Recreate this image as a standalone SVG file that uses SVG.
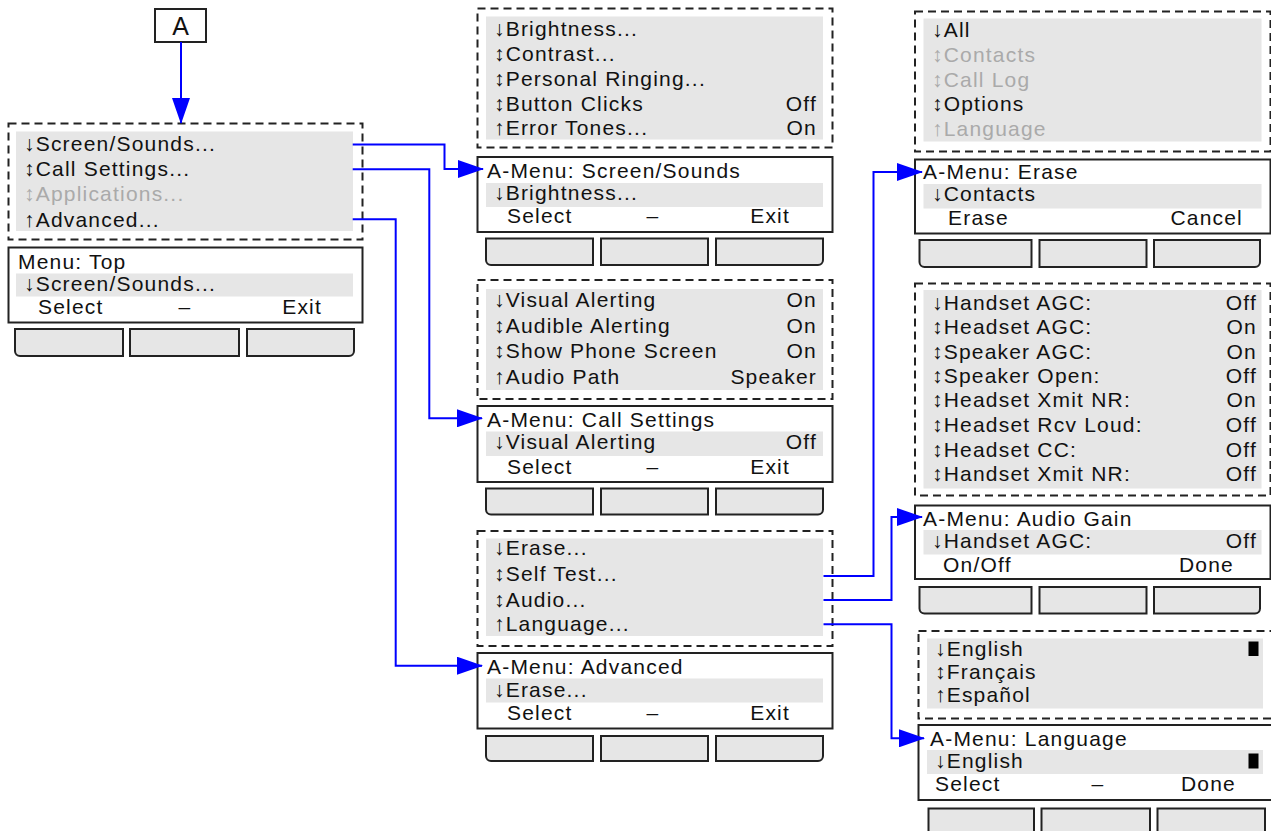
<svg xmlns="http://www.w3.org/2000/svg" width="1271" height="831" viewBox="0 0 1271 831">
<style>
  .dash{fill:none;stroke:#222;stroke-width:2;stroke-dasharray:8 5}
  .box{fill:#fff;stroke:#222;stroke-width:2}
  .hl{fill:#e6e6e6}
  .btn{fill:#e6e6e6;stroke:#222;stroke-width:2}
  text{font-family:"Liberation Sans",Arial,sans-serif;font-size:21px;letter-spacing:1.2px;fill:#111}
  .dim{fill:#aaa}
  .r{text-anchor:end}
  .m{text-anchor:middle}
  .blk{fill:#000}
  .conn{fill:none;stroke:#0000ff;stroke-width:2;marker-end:url(#ah)}
</style>
<defs>
  <marker id="ah" markerUnits="userSpaceOnUse" markerWidth="26" markerHeight="18" refX="25" refY="9" orient="auto">
    <path d="M0,0 L26,9 L0,18 Z" fill="#0000ff"/>
  </marker>
</defs>
<rect width="1271" height="831" fill="#fff"/>

<g id="start-A">
  <rect class="box" x="155" y="9" width="51" height="33"/>
  <text x="180.5" y="35" class="m" style="font-size:25px;letter-spacing:0">A</text>
</g>

<g id="menu-top">
  <rect class="dash" x="8.5" y="123.5" width="354" height="116"/>
  <rect class="hl" x="16" y="131.5" width="337" height="99.5"/>
  <text x="24" y="151">↓Screen/Sounds...</text>
  <text x="24" y="176">↕Call Settings...</text>
  <text x="24" y="201" class="dim">↕Applications...</text>
  <text x="24" y="227">↑Advanced...</text>
  <rect class="box" x="8.5" y="247.5" width="354" height="75"/>
  <text x="18" y="269">Menu: Top</text>
  <rect class="hl" x="16" y="273.5" width="337" height="23"/>
  <text x="24" y="291">↓Screen/Sounds...</text>
  <text x="38" y="314">Select</text>
  <text x="185" y="314" class="m">–</text>
  <text x="322" y="314" class="r">Exit</text>
  <path class="btn" d="M15,329 H123 V356 H20 A5,5 0 0 1 15,351 Z"/>
  <rect class="btn" x="130" y="329" width="109" height="27"/>
  <path class="btn" d="M247,329 H354 V351 A5,5 0 0 1 349,356 H247 Z"/>
</g>

<g id="menu-screen-sounds">
  <rect class="dash" x="477.5" y="8.5" width="355" height="139"/>
  <rect class="hl" x="486" y="16.5" width="337" height="123"/>
  <text x="494" y="36">↓Brightness...</text>
  <text x="494" y="61">↕Contrast...</text>
  <text x="494" y="86">↕Personal Ringing...</text>
  <text x="494" y="110.5">↕Button Clicks</text>
  <text x="817" y="110.5" class="r">Off</text>
  <text x="494" y="135">↑Error Tones...</text>
  <text x="817" y="135" class="r">On</text>
  <rect class="box" x="477.5" y="157" width="355" height="75"/>
  <text x="487" y="178">A-Menu: Screen/Sounds</text>
  <rect class="hl" x="486" y="183" width="337" height="24"/>
  <text x="494" y="199.5">↓Brightness...</text>
  <text x="507" y="223">Select</text>
  <text x="653" y="223" class="m">–</text>
  <text x="790" y="223" class="r">Exit</text>
  <path class="btn" d="M486,238.5 H593 V265 H491 A5,5 0 0 1 486,260 Z"/>
  <rect class="btn" x="601" y="238.5" width="107" height="26.5"/>
  <path class="btn" d="M716,238.5 H823 V260 A5,5 0 0 1 818,265 H716 Z"/>
</g>

<g id="menu-call-settings">
  <rect class="dash" x="477.5" y="280" width="355" height="119"/>
  <rect class="hl" x="486" y="289" width="337" height="101"/>
  <text x="494" y="307">↓Visual Alerting</text>
  <text x="817" y="307" class="r">On</text>
  <text x="494" y="332.5">↕Audible Alerting</text>
  <text x="817" y="332.5" class="r">On</text>
  <text x="494" y="357.5">↕Show Phone Screen</text>
  <text x="817" y="357.5" class="r">On</text>
  <text x="494" y="383.5">↑Audio Path</text>
  <text x="817" y="383.5" class="r">Speaker</text>
  <rect class="box" x="477.5" y="406" width="355" height="76"/>
  <text x="487" y="427">A-Menu: Call Settings</text>
  <rect class="hl" x="486" y="431.5" width="337" height="24.5"/>
  <text x="494" y="448.5">↓Visual Alerting</text>
  <text x="817" y="448.5" class="r">Off</text>
  <text x="507" y="473.5">Select</text>
  <text x="653" y="473.5" class="m">–</text>
  <text x="790" y="473.5" class="r">Exit</text>
  <path class="btn" d="M486,488.5 H593 V514.5 H491 A5,5 0 0 1 486,509.5 Z"/>
  <rect class="btn" x="601" y="488.5" width="107" height="26"/>
  <path class="btn" d="M716,488.5 H823 V509.5 A5,5 0 0 1 818,514.5 H716 Z"/>
</g>

<g id="menu-advanced">
  <rect class="dash" x="477.5" y="531" width="355" height="115"/>
  <rect class="hl" x="486" y="538.5" width="337" height="97.5"/>
  <text x="494" y="555">↓Erase...</text>
  <text x="494" y="581">↕Self Test...</text>
  <text x="494" y="606.5">↕Audio...</text>
  <text x="494" y="630.5">↑Language...</text>
  <rect class="box" x="477.5" y="653" width="355" height="75.5"/>
  <text x="487" y="674">A-Menu: Advanced</text>
  <rect class="hl" x="486" y="678.5" width="337" height="24"/>
  <text x="494" y="697">↓Erase...</text>
  <text x="507" y="720">Select</text>
  <text x="653" y="720" class="m">–</text>
  <text x="790" y="720" class="r">Exit</text>
  <path class="btn" d="M486,736 H593 V761 H491 A5,5 0 0 1 486,756 Z"/>
  <rect class="btn" x="601" y="736" width="107" height="25"/>
  <path class="btn" d="M716,736 H823 V756 A5,5 0 0 1 818,761 H716 Z"/>
</g>

<g id="menu-erase">
  <rect class="dash" x="915" y="11.5" width="355.5" height="140"/>
  <rect class="hl" x="923.5" y="18.5" width="338" height="123"/>
  <text x="932" y="37">↓All</text>
  <text x="932" y="61.5" class="dim">↕Contacts</text>
  <text x="932" y="87" class="dim">↕Call Log</text>
  <text x="932" y="110.5">↕Options</text>
  <text x="932" y="136" class="dim">↑Language</text>
  <rect class="box" x="915" y="159.5" width="355.5" height="74"/>
  <text x="923" y="179">A-Menu: Erase</text>
  <rect class="hl" x="923.5" y="184" width="338" height="24.5"/>
  <text x="932" y="200.5">↓Contacts</text>
  <text x="948" y="225">Erase</text>
  <text x="1243" y="225" class="r">Cancel</text>
  <path class="btn" d="M919.5,240 H1031.5 V267 H924.5 A5,5 0 0 1 919.5,262 Z"/>
  <rect class="btn" x="1039.5" y="240" width="107" height="27"/>
  <path class="btn" d="M1154,240 H1260 V262 A5,5 0 0 1 1255,267 H1154 Z"/>
</g>

<g id="menu-audio-gain">
  <rect class="dash" x="915" y="283.5" width="355.5" height="212"/>
  <rect class="hl" x="923.5" y="290" width="338" height="198.5"/>
  <text x="932" y="309.5">↓Handset AGC:</text>
  <text x="1257" y="309.5" class="r">Off</text>
  <text x="932" y="334">↕Headset AGC:</text>
  <text x="1257" y="334" class="r">On</text>
  <text x="932" y="358.5">↕Speaker AGC:</text>
  <text x="1257" y="358.5" class="r">On</text>
  <text x="932" y="382.5">↕Speaker Open:</text>
  <text x="1257" y="382.5" class="r">Off</text>
  <text x="932" y="407">↕Headset Xmit NR:</text>
  <text x="1257" y="407" class="r">On</text>
  <text x="932" y="432">↕Headset Rcv Loud:</text>
  <text x="1257" y="432" class="r">Off</text>
  <text x="932" y="456.5">↕Headset CC:</text>
  <text x="1257" y="456.5" class="r">Off</text>
  <text x="932" y="481">↕Handset Xmit NR:</text>
  <text x="1257" y="481" class="r">Off</text>
  <rect class="box" x="915" y="505.5" width="355.5" height="73.5"/>
  <text x="923" y="526">A-Menu: Audio Gain</text>
  <rect class="hl" x="923.5" y="530" width="338" height="24.5"/>
  <text x="932" y="548">↓Handset AGC:</text>
  <text x="1257" y="548" class="r">Off</text>
  <text x="943" y="571.5">On/Off</text>
  <text x="1234" y="571.5" class="r">Done</text>
  <path class="btn" d="M919.5,587 H1031.5 V613.5 H924.5 A5,5 0 0 1 919.5,608.5 Z"/>
  <rect class="btn" x="1039.5" y="587" width="107" height="26.5"/>
  <path class="btn" d="M1154,587 H1260 V608.5 A5,5 0 0 1 1255,613.5 H1154 Z"/>
</g>

<g id="menu-language">
  <rect class="dash" x="918.5" y="631" width="360" height="87.5"/>
  <rect class="hl" x="927" y="638.5" width="336" height="70"/>
  <text x="935" y="656">↓English</text>
  <rect class="blk" x="1248.5" y="641.5" width="10" height="14.5"/>
  <text x="935" y="679">↕Français</text>
  <text x="935" y="702">↑Español</text>
  <rect class="box" x="918.5" y="725" width="360" height="75"/>
  <text x="930" y="746">A-Menu: Language</text>
  <rect class="hl" x="927" y="750" width="336" height="24"/>
  <text x="935" y="767.5">↓English</text>
  <rect class="blk" x="1248.5" y="753.5" width="10" height="15"/>
  <text x="935" y="791">Select</text>
  <text x="1098" y="791" class="m">–</text>
  <text x="1236" y="791" class="r">Done</text>
  <path class="btn" d="M928.5,808.5 H1034 V840 H933.5 A5,5 0 0 1 928.5,835 Z"/>
  <rect class="btn" x="1041.5" y="808.5" width="108.5" height="31.5"/>
  <path class="btn" d="M1157.5,808.5 H1265 V835 A5,5 0 0 1 1260,840 H1157.5 Z"/>
</g>

<g id="connectors">
  <path class="conn" d="M181,42 V123"/>
  <path class="conn" d="M352.7,144.5 H444.5 V169 H483"/>
  <path class="conn" d="M352.7,169.3 H429.3 V418.3 H482"/>
  <path class="conn" d="M352.7,219.3 H395.7 V665.7 H482"/>
  <path class="conn" d="M823.5,576 H873.5 V172 H922"/>
  <path class="conn" d="M823.5,600 H891.5 V517 H922"/>
  <path class="conn" d="M823.5,624.3 H891.5 V738.3 H924"/>
</g>
</svg>
